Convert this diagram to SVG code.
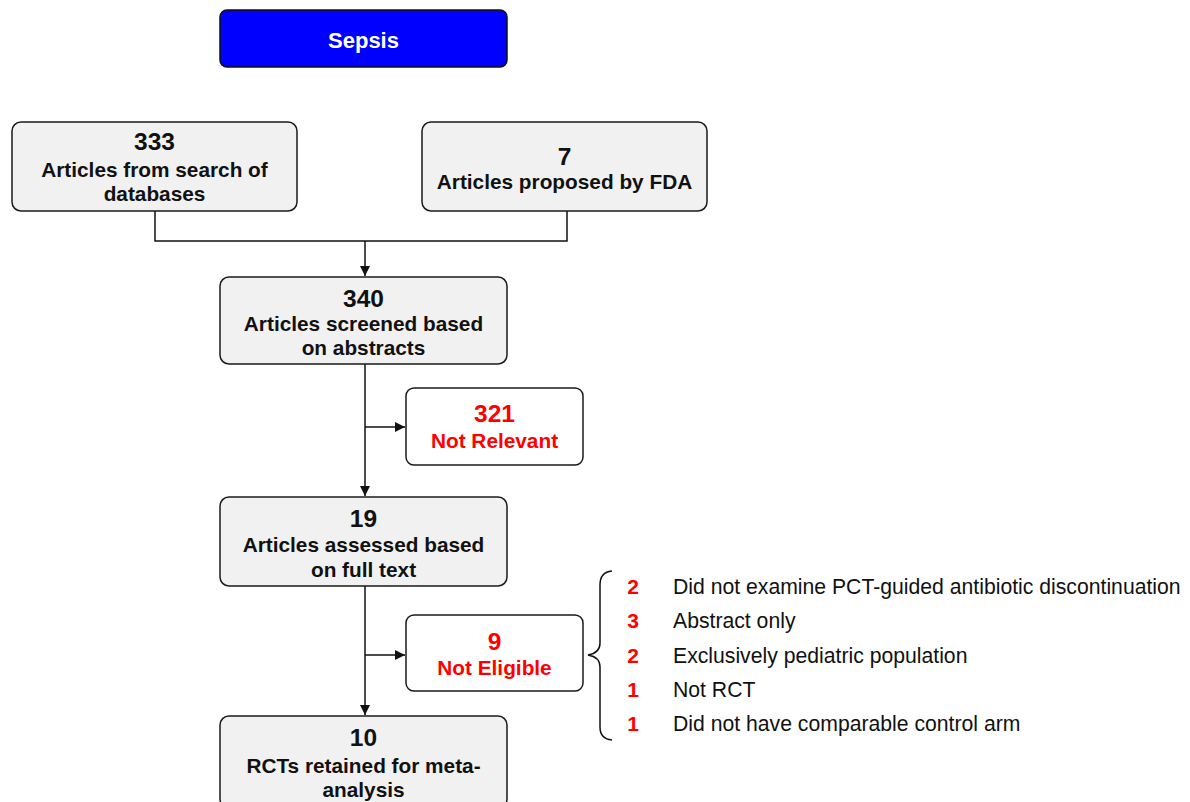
<svg xmlns="http://www.w3.org/2000/svg" width="1190" height="802" viewBox="0 0 1190 802">
<style>
.box{fill:#f1f1f1;stroke:#1a1a1a;stroke-width:1.5}
.wbox{fill:#ffffff;stroke:#1a1a1a;stroke-width:1.5}
.t{font-family:"Liberation Sans",Arial,sans-serif;font-weight:bold;font-size:20.8px;fill:#111;text-anchor:middle}
.n{font-size:24.5px}
.r{fill:#ff0000}
.ln{fill:none;stroke:#111;stroke-width:1.5}
.li{font-family:"Liberation Sans",Arial,sans-serif;font-size:21.2px;fill:#111}
.ln2{font-family:"Liberation Sans",Arial,sans-serif;font-size:21px;font-weight:bold;fill:#ff0000;text-anchor:middle}
</style>
<defs>
<marker id="ah" viewBox="0 0 10 10" refX="10" refY="5" markerWidth="10" markerHeight="10" markerUnits="userSpaceOnUse" orient="auto">
<path d="M0,0 L10,5 L0,10 z" fill="#111"/>
</marker>
</defs>
<rect width="1190" height="802" fill="#ffffff"/>
<g id="connectors">
<path class="ln" d="M155,211 V241 H567 V211"/>
<path class="ln" d="M365,241 V276" marker-end="url(#ah)"/>
<path class="ln" d="M365,364 V496" marker-end="url(#ah)"/>
<path class="ln" d="M365,427 H405" marker-end="url(#ah)"/>
<path class="ln" d="M365,586 V715" marker-end="url(#ah)"/>
<path class="ln" d="M365,655 H405" marker-end="url(#ah)"/>
<path class="ln" d="M612,571 Q600,572 600,585 V643 Q600,653 588,655 Q600,657 600,667 V727 Q600,739 612,740"/>
</g>
<g id="sepsis">
<rect x="220" y="10" width="287" height="57" rx="7" fill="#0000ff" stroke="#111" stroke-width="1.5"/>
<text x="363.5" y="47.5" class="t" style="fill:#ffffff;font-size:22px">Sepsis</text>
</g>
<g id="n333">
<rect class="box" x="12" y="122" width="285" height="89" rx="9"/>
<text class="t n" x="154.5" y="150">333</text>
<text class="t" x="154.5" y="177">Articles from search of</text>
<text class="t" x="154.5" y="201">databases</text>
</g>
<g id="n7">
<rect class="box" x="422" y="122" width="285" height="89" rx="9"/>
<text class="t n" x="564.5" y="165">7</text>
<text class="t" x="564.5" y="189">Articles proposed by FDA</text>
</g>
<g id="n340">
<rect class="box" x="220" y="277" width="287" height="87" rx="9"/>
<text class="t n" x="363.5" y="307">340</text>
<text class="t" x="363.5" y="331">Articles screened based</text>
<text class="t" x="363.5" y="355">on abstracts</text>
</g>
<g id="n321">
<rect class="wbox" x="406" y="388" width="177" height="77" rx="8"/>
<text class="t n r" x="494.5" y="422">321</text>
<text class="t r" x="494.5" y="448">Not Relevant</text>
</g>
<g id="n19">
<rect class="box" x="220" y="497" width="287" height="89" rx="9"/>
<text class="t n" x="363.5" y="527">19</text>
<text class="t" x="363.5" y="552">Articles assessed based</text>
<text class="t" x="363.5" y="577">on full text</text>
</g>
<g id="n9">
<rect class="wbox" x="406" y="615" width="177" height="76" rx="8"/>
<text class="t n r" x="494.5" y="650">9</text>
<text class="t r" x="494.5" y="675">Not Eligible</text>
</g>
<g id="n10">
<rect class="box" x="220" y="716" width="287" height="92" rx="9"/>
<text class="t n" x="363.5" y="746">10</text>
<text class="t" x="363.5" y="773">RCTs retained for meta-</text>
<text class="t" x="363.5" y="797">analysis</text>
</g>
<g id="reasons">
<text class="ln2" x="633" y="594">2</text>
<text class="li" x="673" y="594">Did not examine PCT-guided antibiotic discontinuation</text>
<text class="ln2" x="633" y="628">3</text>
<text class="li" x="673" y="628">Abstract only</text>
<text class="ln2" x="633" y="663">2</text>
<text class="li" x="673" y="663">Exclusively pediatric population</text>
<text class="ln2" x="633" y="697">1</text>
<text class="li" x="673" y="697">Not RCT</text>
<text class="ln2" x="633" y="731">1</text>
<text class="li" x="673" y="731">Did not have comparable control arm</text>
</g>
</svg>
